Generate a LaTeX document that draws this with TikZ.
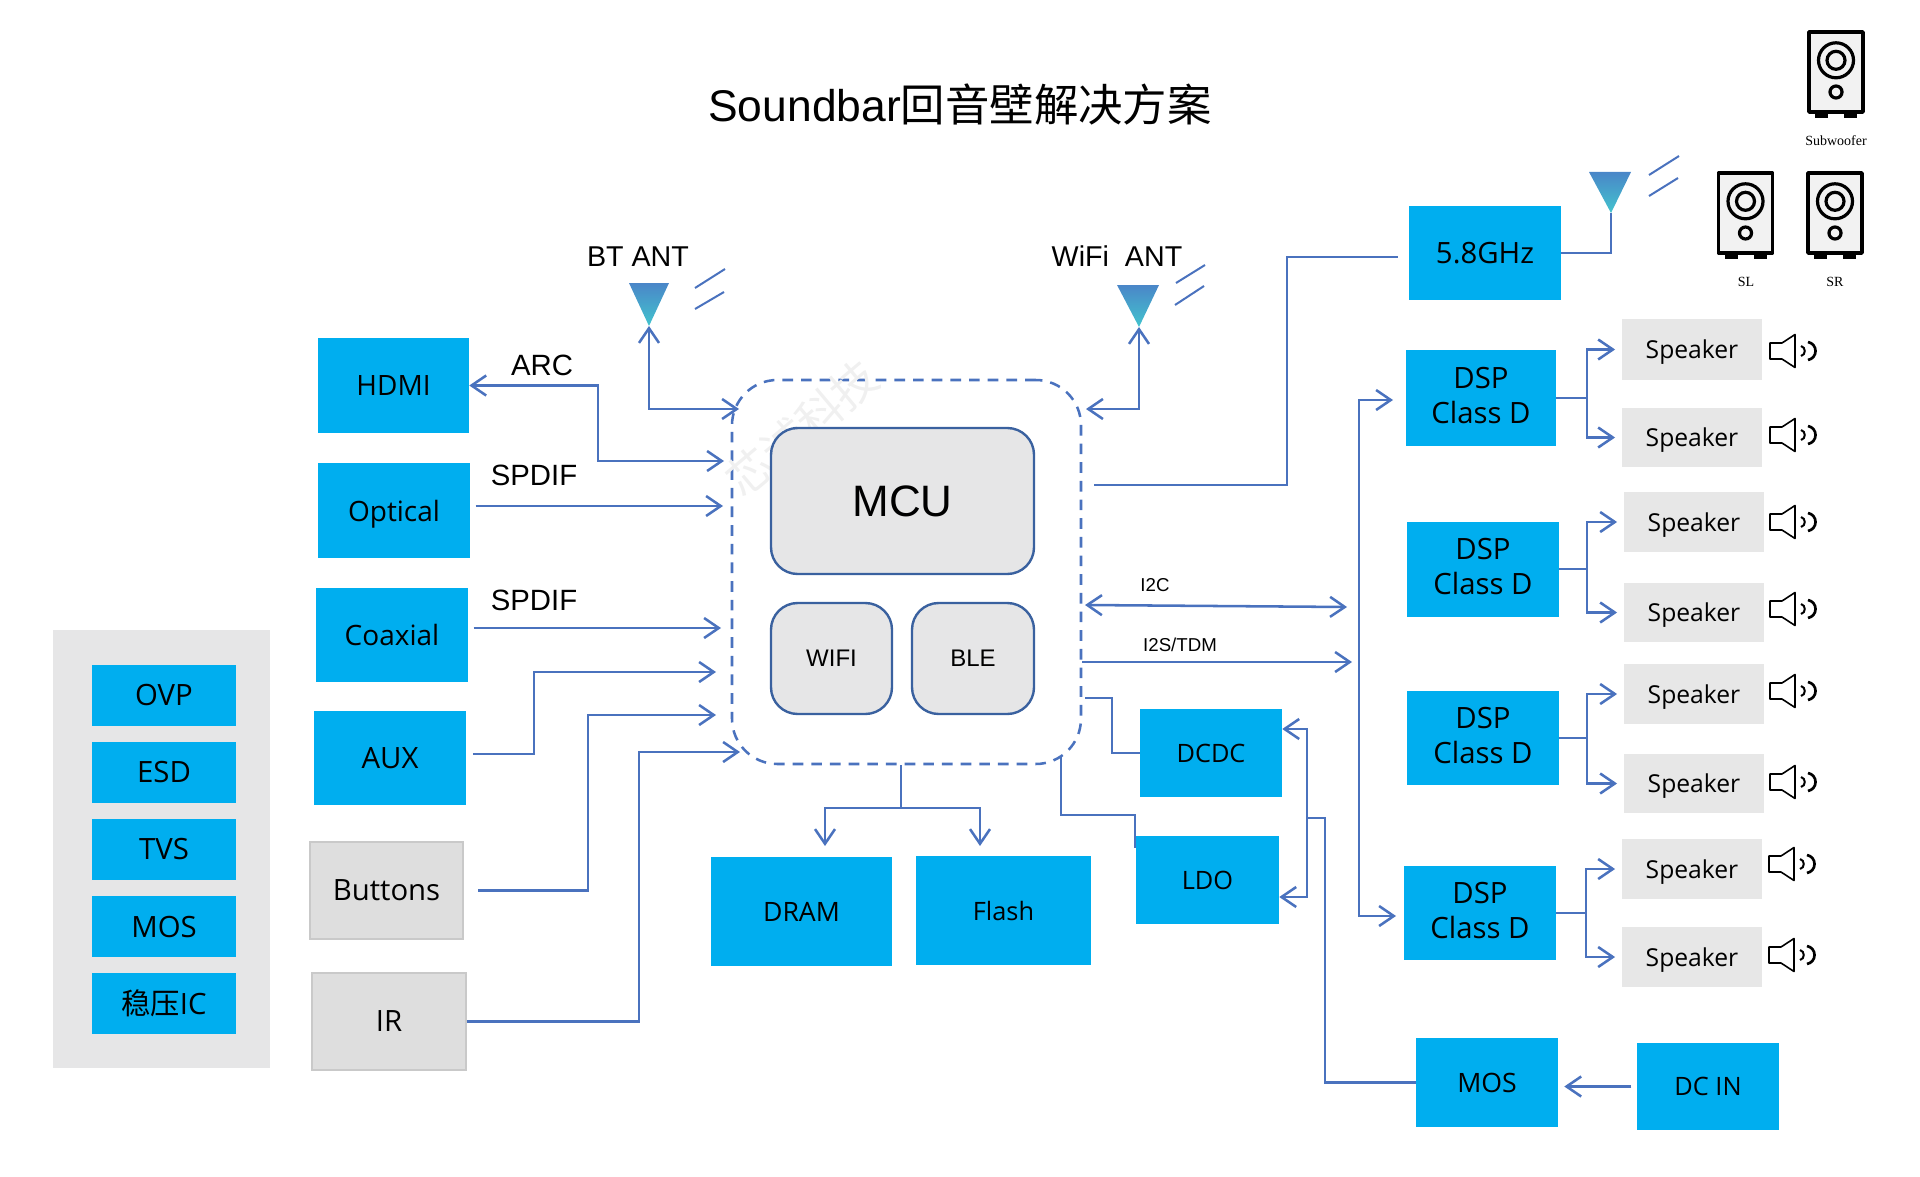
\documentclass[tikz,border=0pt]{standalone}
\usepackage{fontspec}
\setmainfont{Liberation Sans}
\newfontfamily\boxfont{Open Sans}
\newfontfamily\cjkfont{Noto Sans CJK SC}
\newfontfamily\tagfont{Liberation Serif}
\usetikzlibrary{arrows.meta}
\definecolor{boxblue}{HTML}{00AEEF}
\definecolor{padgray}{HTML}{E6E6E7}
\definecolor{btngray}{HTML}{DEDEDE}
\definecolor{btnedge}{HTML}{C9C9C9}
\definecolor{spkgray}{HTML}{E7E7E7}
\definecolor{linkblue}{HTML}{4A72BE}
\definecolor{chipedge}{HTML}{3A619F}
\definecolor{antblue}{HTML}{4A86C8}
\definecolor{antcyan}{HTML}{42C4CE}
\tikzset{
  boxsize/.style 2 args={minimum width=#1*0.75pt,minimum height=#2*0.75pt,inner sep=0pt},
  boxtext/.style={font=\boxfont\fontsize{#1}{26}\selectfont,align=center},
  labeltext/.style={font=\fontsize{#1}{26}\selectfont,inner sep=0pt},
  bluebox/.style={fill=boxblue},
  graybox/.style={fill=btngray,draw=btnedge,line width=1pt},
  spkbox/.style={fill=spkgray,text depth=0pt},
  dspbox/.style={fill=boxblue,text depth=4pt},
  chipbox/.style={fill=padgray,draw=chipedge,line width=1.8pt,rounded corners=20pt},
  link/.style={draw=linkblue,line width=1.9pt,>={Straight Barb[length=11pt,width=15pt]}},
  wave/.style={draw=linkblue,line width=1.5pt},
  antenna/.style={top color=antblue,bottom color=antcyan,draw=none},
  cabinet/.pic={
    \draw [fill=black] (-14.7-6,41.5) rectangle (-14.7+6,45.5);
    \draw [fill=black] (14.7-6,41.5) rectangle (14.7+6,45.5);
    \draw [line width=2.6pt,fill=black!5,line join=round] (-27,-40) rectangle (27,40);
    \draw [line width=2.4pt] (0,-11.7) circle (17.5);
    \draw [line width=2.4pt] (0,-11.7) circle (9);
    \draw [line width=2.4pt] (0,20) circle (6);
  },
  hornicon/.pic={
    \draw [line width=1.2pt,line join=round] (0,-8) -- (12,-8) -- (25,-16.5) -- (25,16.5) -- (12,8) -- (0,8) -- cycle;
    \draw [line width=1.5pt] (31,-5) .. controls (36,-4) and (36,4) .. (31,5);
    \draw [line width=2pt] (38,-9) .. controls (48,-7) and (48,7) .. (38,9);
  },
}
\begin{document}
\begin{tikzpicture}[x=0.75pt,y=0.75pt,yscale=-1,xscale=1,every pic/.style={yscale=-1}]
    \useasboundingbox (0,0) rectangle (1920,1177);
    % Title
    \draw (960,105) node [labeltext=33.3] (title) {Soundbar{\cjkfont 回音壁解决方案}};
    % Left Panel
    \draw (161.5,849) node [fill=padgray,boxsize={217}{438}] (panel) {};
    \draw (164,695.5) node [bluebox,boxsize={144}{61},boxtext=22] (ovp) {OVP};
    \draw (164,772.5) node [bluebox,boxsize={144}{61},boxtext=22] (esd) {ESD};
    \draw (164,849.5) node [bluebox,boxsize={144}{61},boxtext=22] (tvs) {TVS};
    \draw (164,926.5) node [bluebox,boxsize={144}{61},boxtext=22] (mosprot) {MOS};
    \draw (164,1003.5) node [bluebox,boxsize={144}{61},boxtext=22] (reg) {{\cjkfont 稳压}IC};
    % Input Boxes
    \draw (393.5,385.5) node [bluebox,boxsize={151}{95},boxtext=21] (hdmi) {HDMI};
    \draw (394,510.5) node [bluebox,text depth=0pt,boxsize={152}{95},boxtext=21] (optical) {Optical};
    \draw (392,635) node [bluebox,boxsize={152}{94},boxtext=21] (coaxial) {Coaxial};
    \draw (390,758) node [bluebox,boxsize={152}{94},boxtext=22] (aux) {AUX};
    \draw (386.5,890.5) node [graybox,boxsize={153}{97},boxtext=22] (buttons) {Buttons};
    \draw (389,1021.5) node [graybox,boxsize={154}{97},boxtext=22] (ir) {IR};
    % Core
    \draw (906.5,572) node [draw=linkblue,line width=1.9pt,dash pattern={on 8pt off 6pt},rounded corners=34pt,boxsize={349}{384}] (core) {};
    \draw (802,428) node [rotate=40,font=\cjkfont\fontsize{34}{34}\selectfont,text=black!6] (watermark) {芯诚科技};
    \draw (902.5,501) node [chipbox,boxsize={263}{146},labeltext=33] (mcu) {MCU};
    \draw (831.5,658.5) node [chipbox,boxsize={121}{111},labeltext=18] (wifi) {WIFI};
    \draw (973,658.5) node [chipbox,boxsize={122}{111},labeltext=18] (ble) {BLE};
    % Memory and Power
    \draw (801.5,911.5) node [bluebox,boxsize={181}{109},boxtext=20] (dram) {DRAM};
    \draw (1003.5,910.5) node [bluebox,boxsize={175}{109},boxtext=19] (flash) {Flash};
    \draw (1211,753) node [bluebox,boxsize={142}{88},boxtext=19] (dcdc) {DCDC};
    \draw (1207.5,880) node [bluebox,boxsize={143}{88},boxtext=19] (ldo) {LDO};
    \draw (1487,1082.5) node [bluebox,boxsize={142}{89},boxtext=20] (mosbox) {MOS};
    \draw (1708,1086.5) node [bluebox,boxsize={142}{87},boxtext=19] (dcin) {DC IN};
    % DSP and RF Boxes
    \draw (1485,253) node [bluebox,boxsize={152}{94},boxtext=22] (rfbox) {5.8GHz};
    \draw (1481,398) node [dspbox,boxsize={150}{96},boxtext=22] (dspone) {DSP\\Class D};
    \draw (1483,569) node [dspbox,boxsize={152}{95},boxtext=22] (dsptwo) {DSP\\Class D};
    \draw (1483,738) node [dspbox,boxsize={152}{94},boxtext=22] (dspthree) {DSP\\Class D};
    \draw (1480,913) node [dspbox,boxsize={152}{94},boxtext=22] (dspfour) {DSP\\Class D};
    % Speaker Boxes
    \draw (1692,349.5) node [spkbox,boxsize={140}{61},boxtext=18.5] (spkone) {Speaker};
    \draw (1692,437.5) node [spkbox,boxsize={140}{59},boxtext=18.5] (spktwo) {Speaker};
    \draw (1694,522) node [spkbox,boxsize={140}{60},boxtext=18.5] (spkthree) {Speaker};
    \draw (1694,612.5) node [spkbox,boxsize={140}{59},boxtext=18.5] (spkfour) {Speaker};
    \draw (1694,694) node [spkbox,boxsize={140}{60},boxtext=18.5] (spkfive) {Speaker};
    \draw (1694,783.5) node [spkbox,boxsize={140}{59},boxtext=18.5] (spksix) {Speaker};
    \draw (1692,869) node [spkbox,boxsize={140}{60},boxtext=18.5] (spkseven) {Speaker};
    \draw (1692,957) node [spkbox,boxsize={140}{60},boxtext=18.5] (spkeight) {Speaker};
    % Speaker Icons
    \pic at (1770,351) {hornicon};
    \pic at (1770,435) {hornicon};
    \pic at (1770,522) {hornicon};
    \pic at (1770,609) {hornicon};
    \pic at (1770,691) {hornicon};
    \pic at (1770,782) {hornicon};
    \pic at (1769,864) {hornicon};
    \pic at (1769,955) {hornicon};
    % Cabinets
    \pic at (1836,72) {cabinet};
    \pic at (1745.5,213) {cabinet};
    \pic at (1835,213) {cabinet};
    \draw (1836,141) node [font=\tagfont\fontsize{10.5}{12}\selectfont] (subtag) {Subwoofer};
    \draw (1746,282) node [font=\tagfont\fontsize{10.5}{12}\selectfont] (sltag) {SL};
    \draw (1835,282) node [font=\tagfont\fontsize{10.5}{12}\selectfont] (srtag) {SR};
    % Antennas
    \shade [antenna] (629,283) -- (669,283) -- (649,326) -- cycle;
    \shade [antenna] (1117,285) -- (1159,285) -- (1139,327) -- cycle;
    \shade [antenna] (1589,172) -- (1631,172) -- (1611,213) -- cycle;
    \draw [wave] (695,288) -- (725,269);
    \draw [wave] (695,309) -- (724,292);
    \draw [wave] (1176,283) -- (1205,265);
    \draw [wave] (1175,305) -- (1204,286);
    \draw [wave] (1649,175) -- (1679,156);
    \draw [wave] (1649,196) -- (1678,178);
    % Text Node
    \draw (638,257) node [labeltext=21.5] (btlabel) {BT ANT};
    \draw (1117,256) node [labeltext=21.5] (wifilabel) {WiFi\ \ ANT};
    \draw (542,365) node [labeltext=22] (arclabel) {ARC};
    \draw (534,475) node [labeltext=22] (spdifa) {SPDIF};
    \draw (534,600) node [labeltext=22] (spdifb) {SPDIF};
    \draw (1155,585) node [labeltext=14] (i2clabel) {I2C};
    \draw (1180,645) node [labeltext=14] (i2slabel) {I2S/TDM};
    % Free Ends
    \coordinate (bttip) at (649,326);
    \coordinate (btend) at (739,409);
    \coordinate (wifitip) at (1139,327);
    \coordinate (wifiend) at (1086,409);
    \coordinate (rftip) at (1611,213);
    \coordinate (arcturn) at (598,385.5);
    \coordinate (arcend) at (724,461);
    \coordinate (opticalend) at (723,506);
    \coordinate (coaxialend) at (721,628);
    \coordinate (auxturn) at (534,754);
    \coordinate (auxend) at (716,672);
    \coordinate (btnturn) at (588,890.5);
    \coordinate (btnend) at (716,715);
    \coordinate (irturn) at (639,1021.5);
    \coordinate (irend) at (740,752);
    \coordinate (rfturn) at (1287,485);
    \coordinate (rfin) at (1398,257);
    \coordinate (i2cleft) at (1085,605);
    \coordinate (i2cright) at (1347,607);
    \coordinate (i2send) at (1352,662);
    \coordinate (memsplit) at (901,808);
    \coordinate (dramend) at (825,846);
    \coordinate (flashend) at (980,846);
    \coordinate (dcdcout) at (1085,698);
    \coordinate (dcdcturn) at (1112,698);
    \coordinate (ldoout) at (1061,757);
    \coordinate (ldoturn) at (1061,815);
    \coordinate (ldoin) at (1135,848);
    \coordinate (pwrtop) at (1307,729);
    \coordinate (pwrbot) at (1307,897);
    \coordinate (pwrjoin) at (1307,818);
    \coordinate (mosturn) at (1325,818);
    \coordinate (bustop) at (1359,400);
    \coordinate (busend) at (1393,400);
    \coordinate (busfoot) at (1396,916);
    \coordinate (splitone) at (1587,398);
    \coordinate (splittwo) at (1587,569);
    \coordinate (splitthree) at (1587,738);
    \coordinate (splitfour) at (1586,913);
    % Connection
    \draw [link,<->] (bttip) |- (btend);
    \draw [link,<->] (wifitip) |- (wifiend);
    \draw [link] (rfbox.east) -| (rftip);
    \draw [link,<->] (hdmi.east) -- (arcturn) |- (arcend);
    \draw [link,->] ([xshift=4pt]optical.east |- opticalend) -- (opticalend);
    \draw [link,->] ([xshift=4pt]coaxial.east |- coaxialend) -- (coaxialend);
    \draw [link,->] ([xshift=5pt]aux.east |- auxturn) -- (auxturn) |- (auxend);
    \draw [link,->] ([xshift=11pt]buttons.east) -- (btnturn) |- (btnend);
    \draw [link,->] (ir.east) -- (irturn) |- (irend);
    \draw [link] ([xshift=9pt]core.east |- rfturn) -- (rfturn) |- (rfin);
    \draw [link,<->] (i2cleft) -- (i2cright);
    \draw [link,->] (core.east |- i2send) -- (i2send);
    \draw [link] (core.south -| memsplit) -- (memsplit);
    \draw [link,->] (memsplit) -| (dramend);
    \draw [link,->] (memsplit) -| (flashend);
    \draw [link] (dcdcout) -- (dcdcturn) |- (dcdc.west);
    \draw [link] (ldoout) -- (ldoturn) -| (ldoin);
    \draw [link,<->] (dcdc.east |- pwrtop) -- (pwrtop) |- (ldo.east |- pwrbot);
    \draw [link] (pwrjoin) -- (mosturn) |- (mosbox.west);
    \draw [link,->] ([xshift=-4pt]dcin.west) -- ([xshift=4.5pt]mosbox.east |- dcin.west);
    \draw [link,<->] (busend) -- (bustop) |- (busfoot);
    \draw [link] (dspone.east) -- (splitone);
    \draw [link,->] (splitone) |- ([xshift=-5pt]spkone.west);
    \draw [link,->] (splitone) |- ([xshift=-5pt]spktwo.west);
    \draw [link] (dsptwo.east) -- (splittwo);
    \draw [link,->] (splittwo) |- ([xshift=-5pt]spkthree.west);
    \draw [link,->] (splittwo) |- ([xshift=-5pt]spkfour.west);
    \draw [link] (dspthree.east) -- (splitthree);
    \draw [link,->] (splitthree) |- ([xshift=-5pt]spkfive.west);
    \draw [link,->] (splitthree) |- ([xshift=-5pt]spksix.west);
    \draw [link] (dspfour.east) -- (splitfour);
    \draw [link,->] (splitfour) |- ([xshift=-5pt]spkseven.west);
    \draw [link,->] (splitfour) |- ([xshift=-5pt]spkeight.west);
\end{tikzpicture}
\end{document}
